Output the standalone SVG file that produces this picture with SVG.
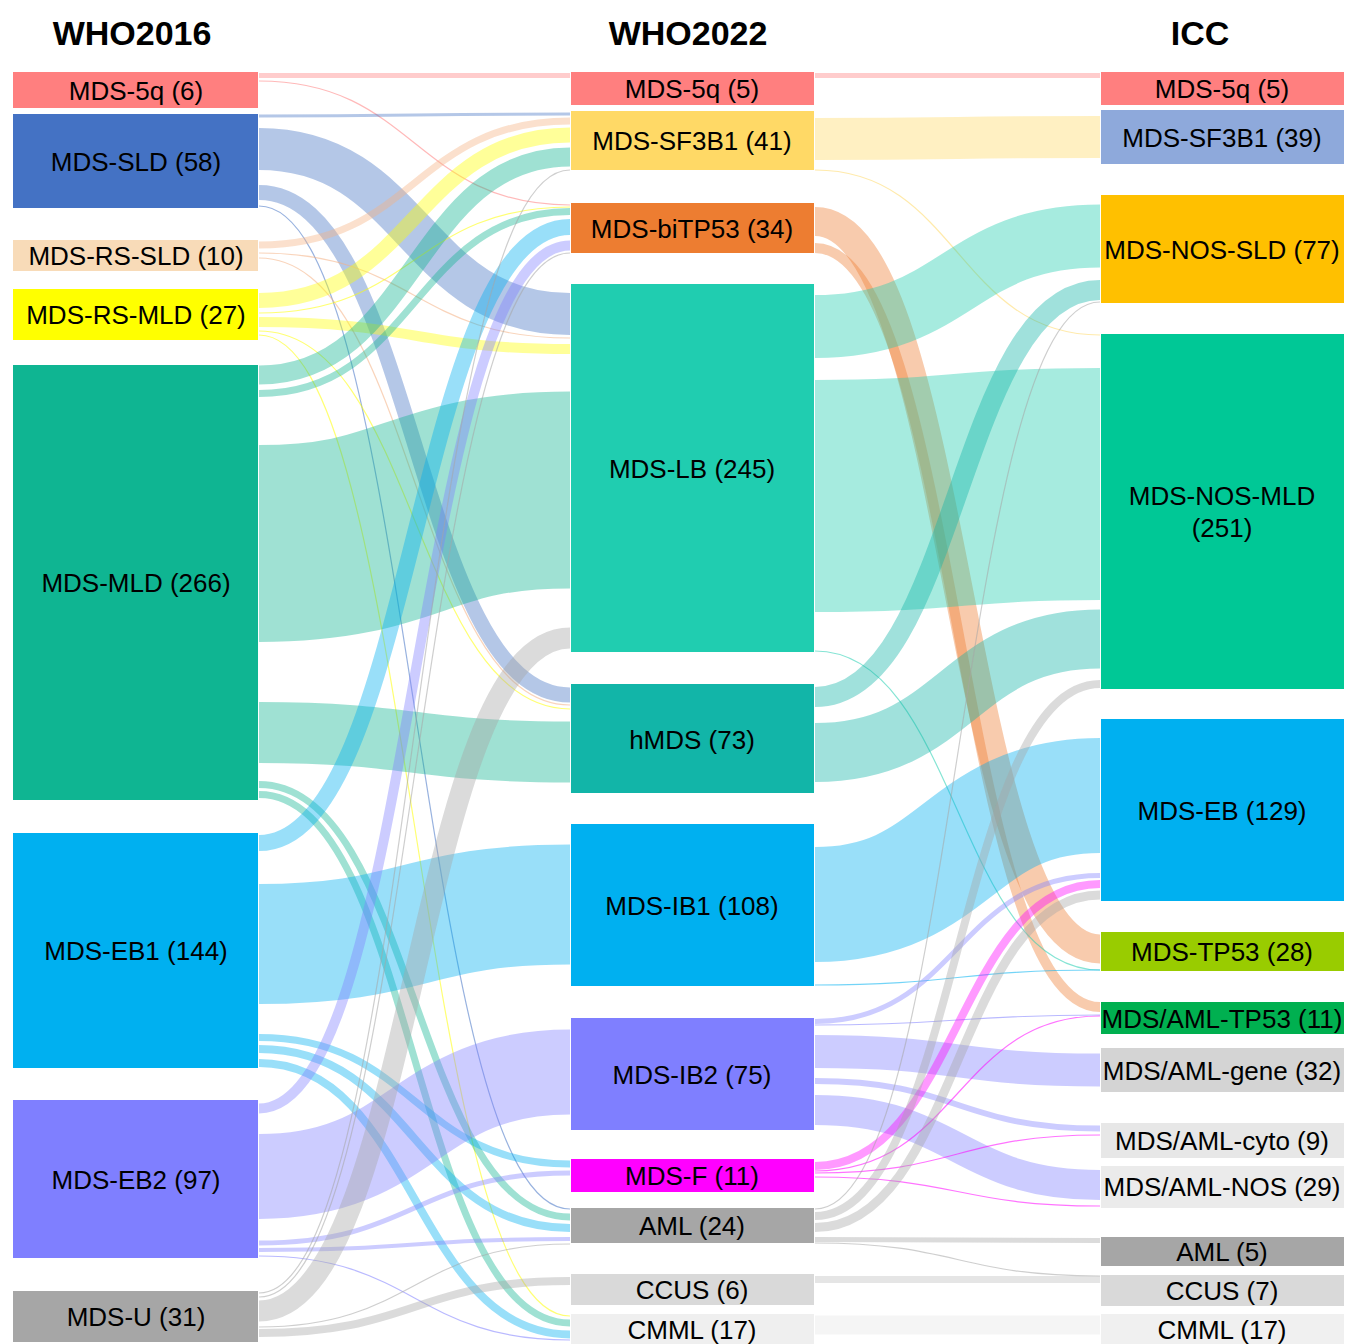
<svg xmlns="http://www.w3.org/2000/svg" width="1348" height="1344" viewBox="0 0 1348 1344">
<style>
.lk{fill:none;stroke-opacity:0.4}
.th{stroke-width:1.2;stroke-opacity:0.55}
.t{font-family:"Liberation Sans",Arial,sans-serif;font-size:26px;text-anchor:middle;fill:#000}
.h{font-family:"Liberation Sans",Arial,sans-serif;font-size:34px;font-weight:bold;text-anchor:middle;fill:#000}
.k5q{stroke:#FF7F7F}.ksld{stroke:#4472C4}.krss{stroke:#F4B183}.krsm{stroke:#FFFF00}.kmld{stroke:#0FB592}
.keb1{stroke:#00B0F0}.keb2{stroke:#7F7FFF}.ku{stroke:#A6A6A6}
.ksf{stroke:#FFD966}.kbi{stroke:#ED7D31}.klb{stroke:#20CDB0}.khm{stroke:#12B5A8}.kib1{stroke:#00B0F0}
.kib2{stroke:#7F7FFF}.kf{stroke:#FF00FF}.kaml{stroke:#A6A6A6}.kccus{stroke:#BFBFBF}.kcmml{stroke:#E6E6E6}
</style>
<rect width="1348" height="1344" fill="#FFFFFF"/>
<g id="headers">
<text class="h" x="132" y="45">WHO2016</text>
<text class="h" x="688" y="45">WHO2022</text>
<text class="h" x="1200" y="45">ICC</text>
</g>
<g id="connectors">
<!-- WHO2016 -> WHO2022 -->
<path class="lk k5q" stroke-width="5" d="M259,75.5 H570"/>
<path class="lk k5q th" d="M259,81 C414.5,81 414.5,205 570,205"/>
<path class="lk ksld" stroke-width="3" d="M259,116 C414.5,116 414.5,114 570,114"/>
<path class="lk ksld" stroke-width="42" d="M259,149 C414.5,149 414.5,314 570,314"/>
<path class="lk ksld" stroke-width="15" d="M259,192.5 C414.5,192.5 414.5,695 570,695"/>
<path class="lk ksld th" d="M259,206 C414.5,206 414.5,1209 570,1209"/>
<path class="lk krss" stroke-width="7" d="M259,245 C414.5,245 414.5,121 570,121"/>
<path class="lk krss th" d="M259,253 C414.5,253 414.5,338 570,338"/>
<path class="lk krss th" d="M259,258 C414.5,258 414.5,705 570,705"/>
<path class="lk krsm" stroke-width="15" d="M259,300.5 C414.5,300.5 414.5,135 570,135"/>
<path class="lk krsm th" d="M259,313 C414.5,313 414.5,207 570,207"/>
<path class="lk krsm" stroke-width="10" d="M259,322 C414.5,322 414.5,349 570,349"/>
<path class="lk krsm th" d="M259,331 C414.5,331 414.5,709 570,709"/>
<path class="lk krsm th" d="M259,335 C414.5,335 414.5,1316 570,1316"/>
<path class="lk kmld" stroke-width="19" d="M259,375 C414.5,375 414.5,157 570,157"/>
<path class="lk kmld" stroke-width="7" d="M259,393.5 C414.5,393.5 414.5,211.5 570,211.5"/>
<path class="lk kmld" stroke-width="197" d="M259,543.5 C414.5,543.5 414.5,490 570,490"/>
<path class="lk kmld" stroke-width="61" d="M259,732.5 C414.5,732.5 414.5,752 570,752"/>
<path class="lk kmld" stroke-width="7" d="M259,784.5 C414.5,784.5 414.5,1217 570,1217"/>
<path class="lk kmld" stroke-width="7" d="M259,794.5 C414.5,794.5 414.5,1323 570,1323"/>
<path class="lk keb1" stroke-width="16" d="M259,843 C414.5,843 414.5,227 570,227"/>
<path class="lk keb1" stroke-width="120" d="M259,944 C414.5,944 414.5,904.5 570,904.5"/>
<path class="lk keb1" stroke-width="7" d="M259,1037.5 C414.5,1037.5 414.5,1164 570,1164"/>
<path class="lk keb1" stroke-width="8" d="M259,1049 C414.5,1049 414.5,1228 570,1228"/>
<path class="lk keb1" stroke-width="8" d="M259,1063 C414.5,1063 414.5,1334.5 570,1334.5"/>
<path class="lk keb2" stroke-width="10" d="M259,1108.5 C414.5,1108.5 414.5,245.5 570,245.5"/>
<path class="lk keb2" stroke-width="85" d="M259,1176.5 C414.5,1176.5 414.5,1072 570,1072"/>
<path class="lk keb2" stroke-width="5" d="M259,1243 C414.5,1243 414.5,1173 570,1173"/>
<path class="lk keb2" stroke-width="4" d="M259,1250 C414.5,1250 414.5,1239 570,1239"/>
<path class="lk keb2 th" d="M259,1256 C414.5,1256 414.5,1340 570,1340"/>
<path class="lk ku th" d="M259,1293 C414.5,1293 414.5,170 570,170"/>
<path class="lk ku th" d="M259,1297 C414.5,1297 414.5,253 570,253"/>
<path class="lk ku" stroke-width="21" d="M259,1311 C414.5,1311 414.5,638 570,638"/>
<path class="lk ku th" d="M259,1327 C414.5,1327 414.5,1244 570,1244"/>
<path class="lk ku" stroke-width="8" d="M259,1333 C414.5,1333 414.5,1281 570,1281"/>
<!-- WHO2022 -> ICC -->
<path class="lk k5q" stroke-width="5" d="M815,75.5 H1100"/>
<path class="lk ksf" stroke-width="42" d="M815,139 C957.5,139 957.5,137 1100,137"/>
<path class="lk ksf th" d="M815,170 C957.5,170 957.5,335 1100,335"/>
<path class="lk kbi" stroke-width="29" d="M815,221.5 C957.5,221.5 957.5,949 1100,949"/>
<path class="lk kbi" stroke-width="10" d="M815,248 C957.5,248 957.5,1007 1100,1007"/>
<path class="lk klb" stroke-width="63" d="M815,326.5 C957.5,326.5 957.5,236 1100,236"/>
<path class="lk klb" stroke-width="232" d="M815,496 C957.5,496 957.5,484 1100,484"/>
<path class="lk klb th" d="M815,651 C957.5,651 957.5,970 1100,970"/>
<path class="lk khm" stroke-width="20" d="M815,697 C957.5,697 957.5,290 1100,290"/>
<path class="lk khm" stroke-width="59" d="M815,752.5 C957.5,752.5 957.5,639 1100,639"/>
<path class="lk kib1" stroke-width="115" d="M815,904.5 C957.5,904.5 957.5,795.5 1100,795.5"/>
<path class="lk kib1 th" d="M815,985 C957.5,985 957.5,970 1100,970"/>
<path class="lk kib2" stroke-width="5" d="M815,1021.5 C957.5,1021.5 957.5,875.5 1100,875.5"/>
<path class="lk kib2 th" d="M815,1025 C957.5,1025 957.5,1015 1100,1015"/>
<path class="lk kib2" stroke-width="33" d="M815,1051.5 C957.5,1051.5 957.5,1070 1100,1070"/>
<path class="lk kib2" stroke-width="6" d="M815,1081 C957.5,1081 957.5,1128.5 1100,1128.5"/>
<path class="lk kib2" stroke-width="30" d="M815,1110 C957.5,1110 957.5,1185 1100,1185"/>
<path class="lk kf" stroke-width="8" d="M815,1166 C957.5,1166 957.5,884 1100,884"/>
<path class="lk kf th" d="M815,1171 C957.5,1171 957.5,1016 1100,1016"/>
<path class="lk kf th" d="M815,1173 C957.5,1173 957.5,1135 1100,1135"/>
<path class="lk kf th" d="M815,1177 C957.5,1177 957.5,1206 1100,1206"/>
<path class="lk kaml th" d="M815,1209 C957.5,1209 957.5,302 1100,302"/>
<path class="lk kaml" stroke-width="8" d="M815,1216 C957.5,1216 957.5,684 1100,684"/>
<path class="lk kaml" stroke-width="9" d="M815,1227.5 C957.5,1227.5 957.5,895 1100,895"/>
<path class="lk kaml" stroke-width="5" d="M815,1239.5 C957.5,1239.5 957.5,1240.5 1100,1240.5"/>
<path class="lk kaml th" d="M815,1243 C957.5,1243 957.5,1276 1100,1276"/>
<path class="lk kccus" stroke-width="7" d="M815,1279.5 H1100"/>
<path class="lk kcmml" stroke-width="19" d="M815,1325 H1100"/>
</g>
<!-- WHO2016 nodes -->
<g id="l-mds-5q"><rect x="13" y="72" width="245" height="36" fill="#FF7F7F"/><text class="t" x="136" y="100">MDS-5q (6)</text></g>
<g id="l-mds-sld"><rect x="13" y="114" width="245" height="94" fill="#4472C4"/><text class="t" x="136" y="171">MDS-SLD (58)</text></g>
<g id="l-mds-rs-sld"><rect x="13" y="240" width="245" height="31" fill="#F8DBB8"/><text class="t" x="136" y="265">MDS-RS-SLD (10)</text></g>
<g id="l-mds-rs-mld"><rect x="13" y="289" width="245" height="51" fill="#FFFF00"/><text class="t" x="136" y="324">MDS-RS-MLD (27)</text></g>
<g id="l-mds-mld"><rect x="13" y="365" width="245" height="435" fill="#0FB592"/><text class="t" x="136" y="592">MDS-MLD (266)</text></g>
<g id="l-mds-eb1"><rect x="13" y="833" width="245" height="235" fill="#00B0F0"/><text class="t" x="136" y="960">MDS-EB1 (144)</text></g>
<g id="l-mds-eb2"><rect x="13" y="1100" width="245" height="158" fill="#7F7FFF"/><text class="t" x="136" y="1189">MDS-EB2 (97)</text></g>
<g id="l-mds-u"><rect x="13" y="1291" width="245" height="51" fill="#A6A6A6"/><text class="t" x="136" y="1326">MDS-U (31)</text></g>
<!-- WHO2022 nodes -->
<g id="m-mds-5q"><rect x="571" y="72" width="243" height="33" fill="#FF7F7F"/><text class="t" x="692" y="98">MDS-5q (5)</text></g>
<g id="m-mds-sf3b1"><rect x="571" y="111" width="243" height="59" fill="#FFD966"/><text class="t" x="692" y="150">MDS-SF3B1 (41)</text></g>
<g id="m-mds-bitp53"><rect x="571" y="203" width="243" height="50" fill="#ED7D31"/><text class="t" x="692" y="238">MDS-biTP53 (34)</text></g>
<g id="m-mds-lb"><rect x="571" y="284" width="243" height="368" fill="#20CDB0"/><text class="t" x="692" y="478">MDS-LB (245)</text></g>
<g id="m-hmds"><rect x="571" y="684" width="243" height="109" fill="#12B5A8"/><text class="t" x="692" y="749">hMDS (73)</text></g>
<g id="m-mds-ib1"><rect x="571" y="824" width="243" height="162" fill="#00B0F0"/><text class="t" x="692" y="915">MDS-IB1 (108)</text></g>
<g id="m-mds-ib2"><rect x="571" y="1018" width="243" height="112" fill="#7F7FFF"/><text class="t" x="692" y="1084">MDS-IB2 (75)</text></g>
<g id="m-mds-f"><rect x="571" y="1159" width="243" height="33" fill="#FF00FF"/><text class="t" x="692" y="1185">MDS-F (11)</text></g>
<g id="m-aml"><rect x="571" y="1208" width="243" height="35" fill="#A6A6A6"/><text class="t" x="692" y="1235">AML (24)</text></g>
<g id="m-ccus"><rect x="571" y="1274" width="243" height="31" fill="#D9D9D9"/><text class="t" x="692" y="1299">CCUS (6)</text></g>
<g id="m-cmml"><rect x="571" y="1314" width="243" height="30" fill="#EFEFEF"/><text class="t" x="692" y="1339">CMML (17)</text></g>
<!-- ICC nodes -->
<g id="r-mds-5q"><rect x="1101" y="72" width="243" height="33" fill="#FF7F7F"/><text class="t" x="1222" y="98">MDS-5q (5)</text></g>
<g id="r-mds-sf3b1"><rect x="1101" y="110" width="243" height="54" fill="#8EA9DB"/><text class="t" x="1222" y="147">MDS-SF3B1 (39)</text></g>
<g id="r-mds-nos-sld"><rect x="1101" y="195" width="243" height="108" fill="#FFC000"/><text class="t" x="1222" y="259">MDS-NOS-SLD (77)</text></g>
<g id="r-mds-nos-mld"><rect x="1101" y="334" width="243" height="355" fill="#00C896"/><text class="t" x="1222" y="505">MDS-NOS-MLD</text><text class="t" x="1222" y="537">(251)</text></g>
<g id="r-mds-eb"><rect x="1101" y="719" width="243" height="182" fill="#00B0F0"/><text class="t" x="1222" y="820">MDS-EB (129)</text></g>
<g id="r-mds-tp53"><rect x="1101" y="932" width="243" height="39" fill="#99CC00"/><text class="t" x="1222" y="961">MDS-TP53 (28)</text></g>
<g id="r-mds-aml-tp53"><rect x="1101" y="1002" width="243" height="32" fill="#00B050"/><text class="t" x="1222" y="1028">MDS/AML-TP53 (11)</text></g>
<g id="r-mds-aml-gene"><rect x="1101" y="1048" width="243" height="44" fill="#D4D4D4"/><text class="t" x="1222" y="1080">MDS/AML-gene (32)</text></g>
<g id="r-mds-aml-cyto"><rect x="1101" y="1123" width="243" height="35" fill="#E7E7E7"/><text class="t" x="1222" y="1150">MDS/AML-cyto (9)</text></g>
<g id="r-mds-aml-nos"><rect x="1101" y="1166" width="243" height="42" fill="#EBEBEB"/><text class="t" x="1222" y="1196">MDS/AML-NOS (29)</text></g>
<g id="r-aml"><rect x="1101" y="1237" width="243" height="29" fill="#A6A6A6"/><text class="t" x="1222" y="1261">AML (5)</text></g>
<g id="r-ccus"><rect x="1101" y="1275" width="243" height="31" fill="#D9D9D9"/><text class="t" x="1222" y="1300">CCUS (7)</text></g>
<g id="r-cmml"><rect x="1101" y="1314" width="243" height="30" fill="#F0F0F0"/><text class="t" x="1222" y="1339">CMML (17)</text></g>
</svg>
